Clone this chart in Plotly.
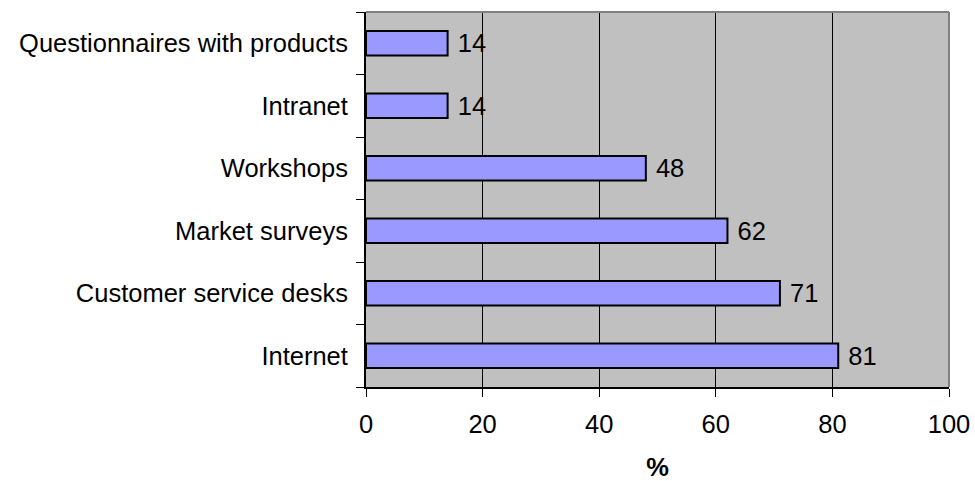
import plotly.graph_objects as go

channels = ["Internet", "Customer service desks", "Market surveys",
            "Workshops", "Intranet", "Questionnaires with products"]
shares = [81, 71, 62, 48, 14, 14]
x_ticks = [0, 20, 40, 60, 80, 100]

FONT_SIZE = 25.5

fig = go.Figure(go.Bar(
    x=shares, y=channels, orientation="h",
    marker=dict(color="#9999FF", line=dict(color="black", width=2)),
    width=0.39,
    texttemplate=" %{x}", textposition="outside", constraintext="none",
    textfont=dict(size=FONT_SIZE, color="black"),
    cliponaxis=False,
))

fig.update_layout(
    width=975, height=481,
    margin=dict(l=366, r=26, t=12, b=94, autoexpand=False),
    paper_bgcolor="white", plot_bgcolor="#C0C0C0",
    font=dict(family="Liberation Sans, Arial", size=FONT_SIZE, color="black"),
    showlegend=False,
    xaxis=dict(
        range=[0, 100], tickvals=x_ticks, ticks="outside", ticklen=8,
        tickcolor="black", showgrid=True, gridcolor="black", gridwidth=1,
        showline=True, linecolor="black", linewidth=2, zeroline=False,
        title=dict(text="<b>%</b>", font=dict(size=FONT_SIZE), standoff=29),
        tickfont=dict(size=FONT_SIZE), ticklabelstandoff=5, automargin=False,
    ),
    yaxis=dict(
        tickson="boundaries", ticks="outside", ticklen=8, tickcolor="black",
        showgrid=False, showline=True, linecolor="black", linewidth=2,
        tickfont=dict(size=FONT_SIZE), ticklabelstandoff=11, automargin=False,
    ),
    shapes=[
        dict(type="line", xref="paper", yref="paper", x0=0, x1=1, y0=1, y1=1,
             line=dict(color="#808080", width=2)),
        dict(type="line", xref="paper", yref="paper", x0=1, x1=1, y0=0, y1=1,
             line=dict(color="#808080", width=2)),
    ],
)

fig.write_html("out.html")
